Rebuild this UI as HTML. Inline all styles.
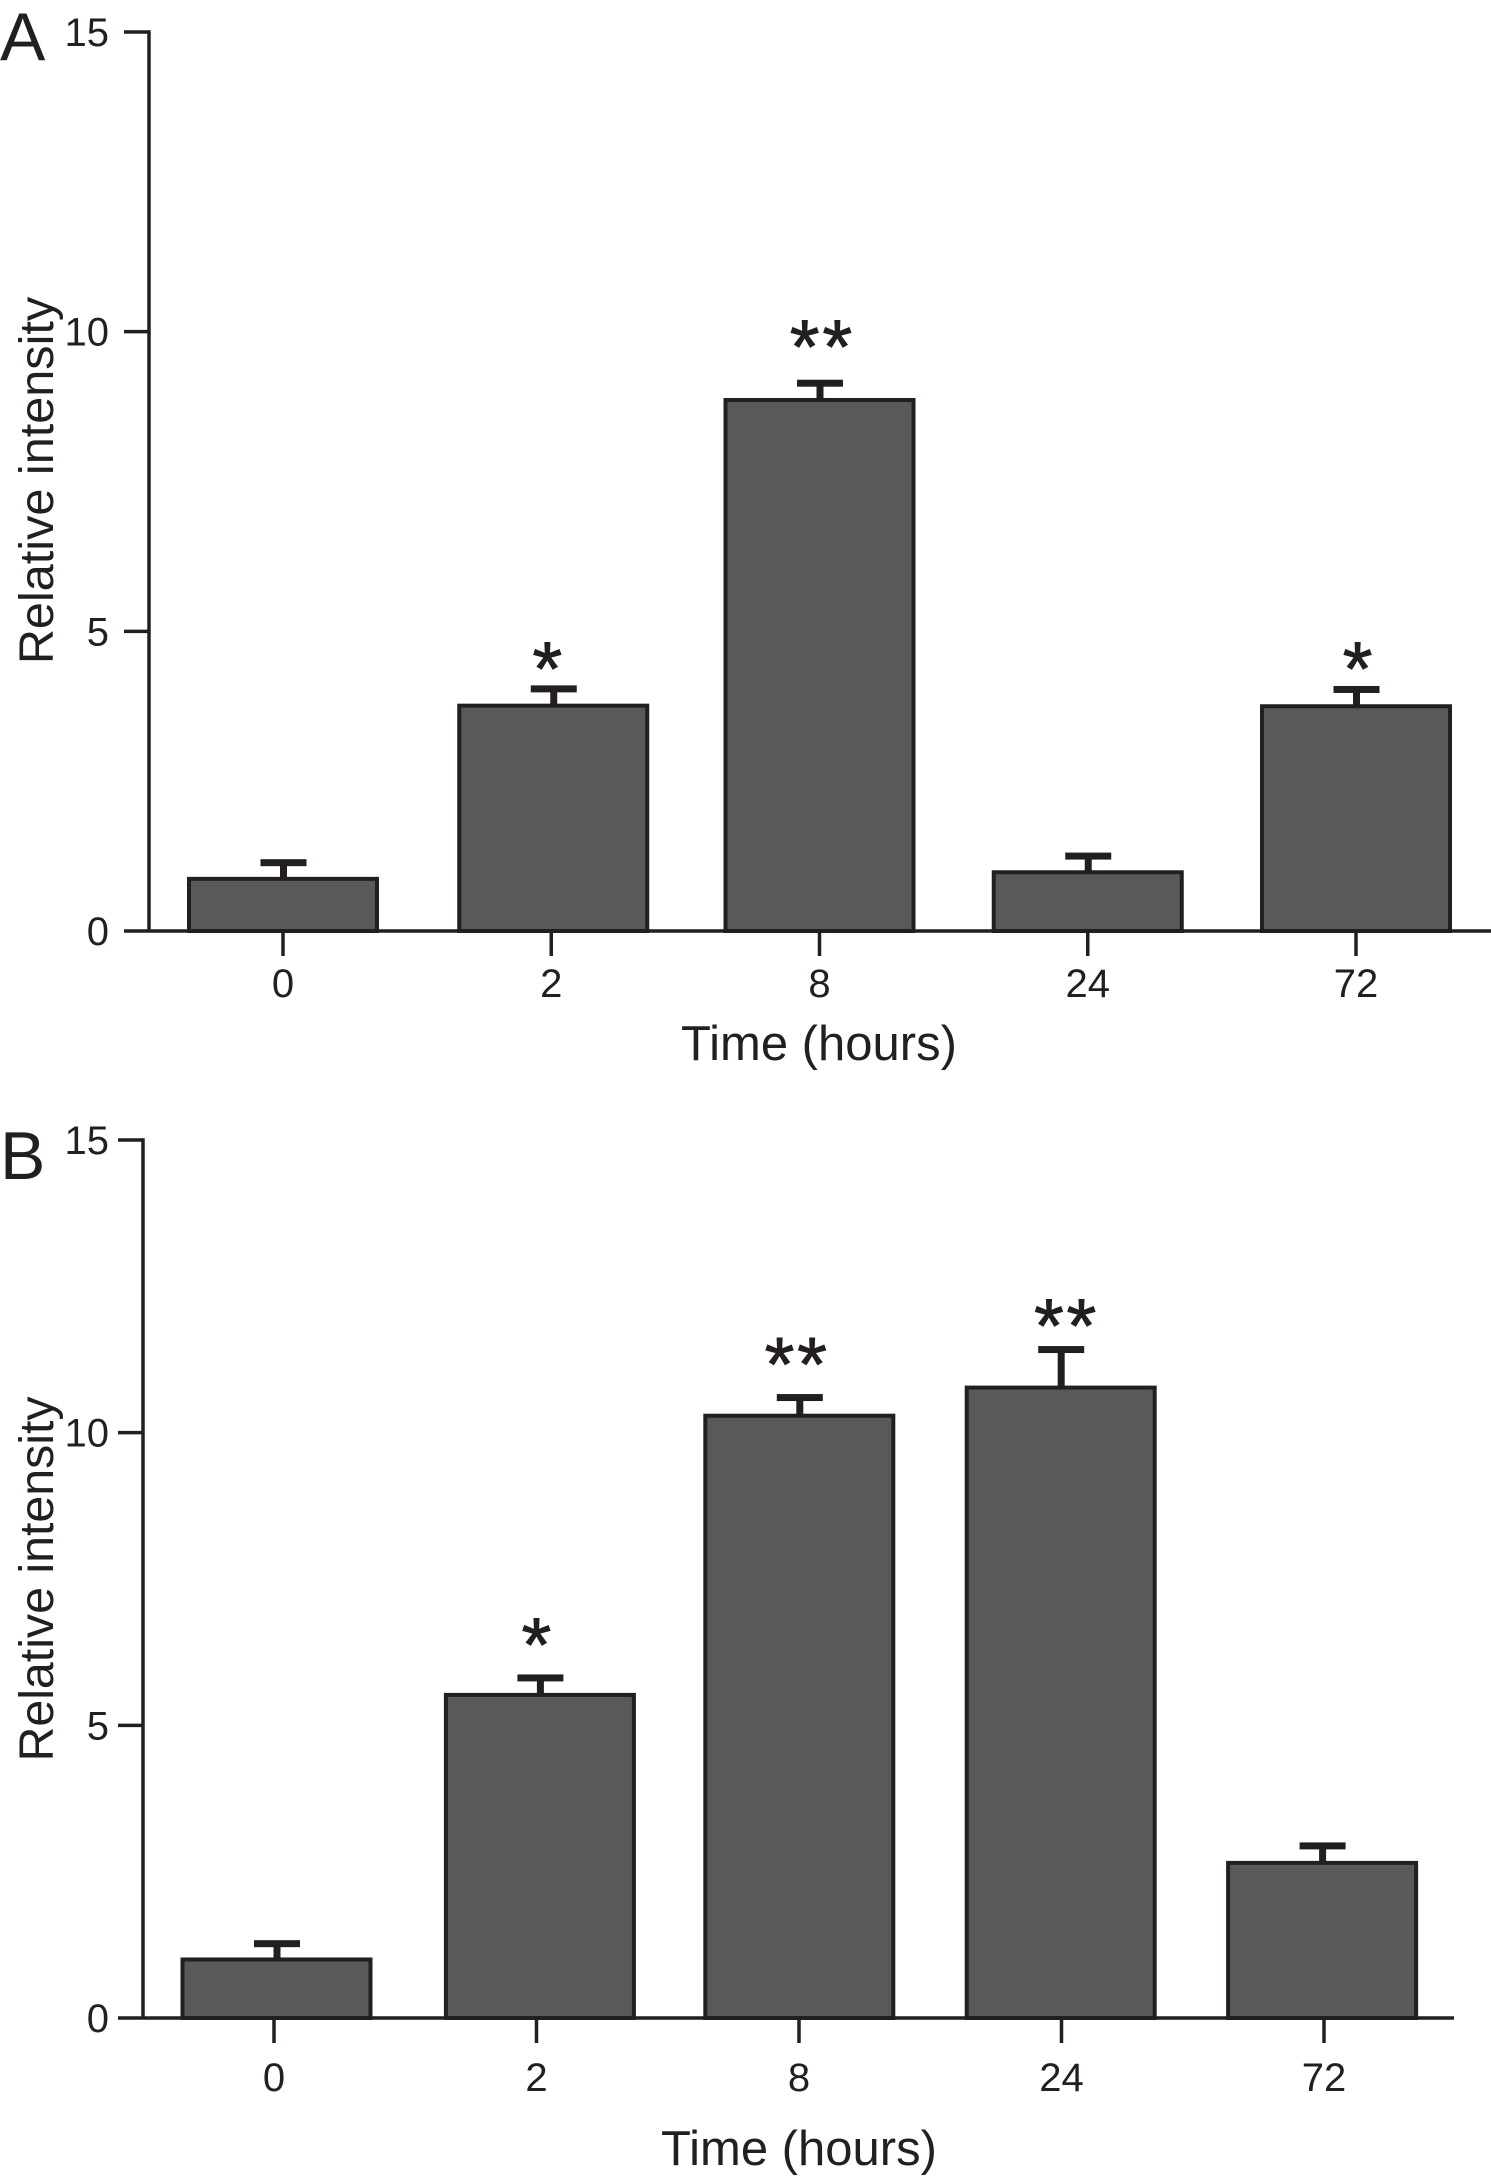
<!DOCTYPE html>
<html lang="en">
<head>
<meta charset="utf-8">
<title>Relative intensity over time</title>
<style>
  html, body { margin: 0; padding: 0; background: #fff; }
  body { width: 1491px; height: 2177px; overflow: hidden; }
  svg { display: block; }
  text { font-family: "Liberation Sans", sans-serif; fill: #231f20; }
</style>
</head>
<body>
<svg id="figure" xmlns="http://www.w3.org/2000/svg" width="1491" height="2177" viewBox="0 0 1491 2177"></svg>
<script>
const categories = ['0', '2', '8', '24', '72'];
const yTickLabels = [0, 5, 10, 15];

const valuesA = [0.87, 3.76, 8.86, 0.98, 3.75];
const errorsA = [0.27, 0.28, 0.28, 0.27, 0.28];
const starsA = ['', '*', '**', '', '*'];
const starLevelsA = [0, 4.39, 9.76, 0, 4.39];

const valuesB = [1.0, 5.52, 10.29, 10.77, 2.65];
const errorsB = [0.27, 0.29, 0.31, 0.65, 0.29];
const starsB = ['', '*', '**', '**', ''];
const starLevelsB = [0, 6.39, 11.18, 11.84, 0];

const INK = '#231f20';
const FILL = '#58595b';
const svg = document.getElementById('figure');

function make(tag, attrs, parent, content) {
  const node = document.createElementNS('http://www.w3.org/2000/svg', tag);
  for (const key in attrs) node.setAttribute(key, attrs[key]);
  if (content !== undefined) node.textContent = content;
  parent.appendChild(node);
  return node;
}

function drawPanel(panel) {
  const yScale = v => panel.y0 + (panel.y15 - panel.y0) * v / 15;
  const tickX = i => panel.tickStart + panel.tickStep * i;
  const barX = i => panel.barStart + panel.barStep * i + panel.barShift[i];

  const group = make('g', {}, svg);
  
  

  const letter = make('text', { x: 0, y: panel.letterY, 'font-size': 68 }, group, panel.letter);
  
  

  panel.values.forEach((value, i) => {
    const cx = barX(i);
    const top = yScale(value);
    const capY = yScale(value + panel.errors[i]);

    const stem = make('line', { x1: cx, x2: cx, y1: top, y2: capY, stroke: INK, 'stroke-width': 7 }, group);
    
    

    const cap = make('rect', { x: cx - 23, y: capY - 3.5, width: 46, height: 7, fill: INK }, group);
    
    

    const bar = make('rect', { x: cx - 94.5, y: top, width: 188, height: panel.y0 - top, fill: FILL, stroke: INK, 'stroke-width': 4 }, group);
    
    

    if (panel.stars[i]) {
      const star = make('text', {
        x: cx + panel.starShift[i] + 2.5,
        y: yScale(panel.starLevels[i]) + 27,
        'font-size': 76,
        'letter-spacing': 3,
        'text-anchor': 'middle',
        stroke: INK,
        'stroke-width': 1
      }, group, panel.stars[i]);
      
      
    }
  });

  const yAxis = make('line', { x1: panel.axisX, x2: panel.axisX, y1: yScale(15) - 1.75, y2: yScale(0), stroke: INK, 'stroke-width': 3.5 }, group);
  
  

  const xAxis = make('line', { x1: panel.axisX - 25, x2: panel.xEnd, y1: yScale(0), y2: yScale(0), stroke: INK, 'stroke-width': 3.5 }, group);
  
  

  yTickLabels.forEach(t => {
    const y = yScale(t);
    if (t !== 0) {
      const mark = make('line', { x1: panel.axisX - 25, x2: panel.axisX, y1: y, y2: y, stroke: INK, 'stroke-width': 3.5 }, group);
      
      
    }
    const label = make('text', { x: 109, y: y + 14, 'font-size': 40, 'text-anchor': 'end' }, group, String(t));
    
    
  });

  categories.forEach((c, i) => {
    const x = tickX(i);
    const mark = make('line', { x1: x, x2: x, y1: yScale(0), y2: yScale(0) + 25, stroke: INK, 'stroke-width': 3.5 }, group);
    
    
    const label = make('text', { x: x, y: panel.tickLabelY, 'font-size': 40, 'text-anchor': 'middle' }, group, c);
    
    
  });

  const xTitle = make('text', { x: panel.xTitleX, y: panel.xTitleY, 'font-size': 49 }, group, 'Time (hours)');
  
  

  const yTitle = make('text', {
    transform: 'translate(53 ' + panel.yTitleY + ') rotate(-90)',
    'font-size': panel.yTitleSize,
    'text-anchor': 'middle'
  }, group, 'Relative intensity');
  
  
}

drawPanel({
  id: 'a', letter: 'A', letterY: 60,
  values: valuesA, errors: errorsA, stars: starsA, starLevels: starLevelsA,
  barShift: [0, 2, 0, 0, 0],
  starShift: [0, -7.5, 0, 0, 0],
  y0: 931, y15: 32, axisX: 149, xEnd: 1491,
  tickStart: 283, tickStep: 268.25, barStart: 283.5, barStep: 268.25,
  tickLabelY: 997, xTitleX: 681, xTitleY: 1060, yTitleY: 480.5, yTitleSize: 48.6
});

drawPanel({
  id: 'b', letter: 'B', letterY: 1179,
  values: valuesB, errors: errorsB, stars: starsB, starLevels: starLevelsB,
  barShift: [0, 2, 0, 0, 0],
  starShift: [0, -5, -5, 3, 0],
  y0: 2018, y15: 1140, axisX: 143, xEnd: 1454,
  tickStart: 274, tickStep: 262.5, barStart: 277, barStep: 261.4,
  tickLabelY: 2091, xTitleX: 661, xTitleY: 2165, yTitleY: 1579, yTitleSize: 48.3
});
</script>
</body>
</html>
